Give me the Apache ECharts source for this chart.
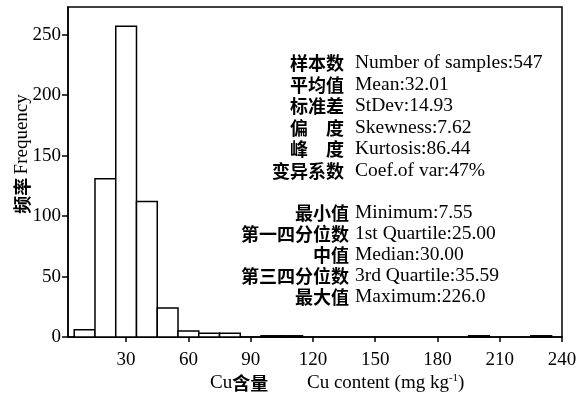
<!DOCTYPE html>
<html><head><meta charset="utf-8">
<script src="https://cdn.jsdelivr.net/npm/echarts@6/dist/echarts.min.js"></script>
<style>html,body{margin:0;padding:0;background:#fff}#c{width:587px;height:396px}</style>
</head><body><div id="c"></div>
<script>
// ---- data ----
const binCenters = [10, 20, 30, 40, 50, 60, 70, 80, 100, 110, 200, 230];
const counts     = [6, 131, 257, 112, 24, 5, 3, 3, 1, 1, 1, 1];
const BIN_WIDTH = 10;
const xTicks = [30, 60, 90, 120, 150, 180, 210, 240];
const yTicks = [0, 50, 100, 150, 200, 250];
const statsZh1 = ['样本数', '平均值', '标准差', '偏　度', '峰　度', '变异系数'];
const statsEn1 = ['Number of samples:547', 'Mean:32.01', 'StDev:14.93', 'Skewness:7.62', 'Kurtosis:86.44', 'Coef.of var:47%'];
const statsZh2 = ['最小值', '第一四分位数', '中值', '第三四分位数', '最大值'];
const statsEn2 = ['Minimum:7.55', '1st Quartile:25.00', 'Median:30.00', '3rd Quartile:35.59', 'Maximum:226.0'];

const SERIF = '"Liberation Serif","Times New Roman",serif';
const CJK = '"Noto Sans CJK SC",sans-serif';
const FS = 19;
const FS_STAT = 19.5;

const chart = echarts.init(document.getElementById('c'));
const graphics = [];
const rows1 = [63, 85, 106, 128, 149, 171];
const rows2 = [213, 234, 255, 276, 297];
statsZh1.forEach((t, i) => {
  graphics.push({type:'text', x: 344, y: rows1[i], style:{text:t, font:'bold 18px ' + CJK, fill:'#000', align:'right', verticalAlign:'middle'}});
  graphics.push({type:'text', x: 355, y: rows1[i], style:{text:statsEn1[i], font:FS_STAT + 'px ' + SERIF, fill:'#000', align:'left', verticalAlign:'middle'}});
});
statsZh2.forEach((t, i) => {
  graphics.push({type:'text', x: 349, y: rows2[i], style:{text:t, font:'bold 18px ' + CJK, fill:'#000', align:'right', verticalAlign:'middle'}});
  graphics.push({type:'text', x: 355, y: rows2[i], style:{text:statsEn2[i], font:FS_STAT + 'px ' + SERIF, fill:'#000', align:'left', verticalAlign:'middle'}});
});
// x axis name
graphics.push({type:'text', x: 210, y: 383, style:{
  text:'{a|Cu}{b|含量}', verticalAlign:'middle', align:'left',
  rich:{a:{font:FS + 'px ' + SERIF, fill:'#000'}, b:{font:'bold 18px ' + CJK, fill:'#000'}}}});
graphics.push({type:'text', x: 307, y: 383, style:{
  text:'{a|Cu content (mg kg}{s|-1}{a|)}', verticalAlign:'middle', align:'left',
  rich:{a:{font:FS + 'px ' + SERIF, fill:'#000'}, s:{font:'11px ' + SERIF, fill:'#000', padding:[0,0,9,0]}}}});
// y axis name
graphics.push({type:'text', x: 22, y: 154, rotation: Math.PI/2, style:{
  text:'{b|频率} {a|Frequency}', verticalAlign:'middle', align:'center',
  rich:{a:{font:FS + 'px ' + SERIF, fill:'#000'}, b:{font:'bold 18px ' + CJK, fill:'#000'}}}});

chart.setOption({
  animation:false,
  grid:{left:68, right:25, top:7, bottom:59, show:true, borderColor:'#000', borderWidth:1.5, backgroundColor:'#fff'},
  xAxis:{type:'value', min:2, max:240,
    axisLine:{show:true, onZero:false, lineStyle:{color:'#000', width:1.5}},
    axisTick:{show:true, length:5, customValues:xTicks, lineStyle:{color:'#000', width:1.5}},
    axisLabel:{customValues:xTicks, margin:14, color:'#000', fontSize:FS, fontFamily:SERIF},
    splitLine:{show:false}},
  yAxis:{type:'value', min:0, max:273,
    axisLine:{show:true, lineStyle:{color:'#000', width:1.5}},
    axisTick:{show:true, length:6, customValues:yTicks, lineStyle:{color:'#000', width:1.5}},
    axisLabel:{customValues:yTicks, margin:7, color:'#000', fontSize:FS, fontFamily:SERIF},
    splitLine:{show:false}},
  series:[{
    type:'custom',
    data: binCenters.map((c, i) => [c, counts[i]]),
    renderItem(params, api){
      const x = api.value(0), y = api.value(1);
      const p0 = api.coord([x - BIN_WIDTH/2, y]);
      const p1 = api.coord([x + BIN_WIDTH/2, 0]);
      return {type:'rect', shape:{x:p0[0], y:p0[1], width:p1[0]-p0[0], height:p1[1]-p0[1]},
        style:{fill:'#fff', stroke:'#000', lineWidth:1.5}};
    }
  }],
  graphic: graphics
});
</script></body></html>
